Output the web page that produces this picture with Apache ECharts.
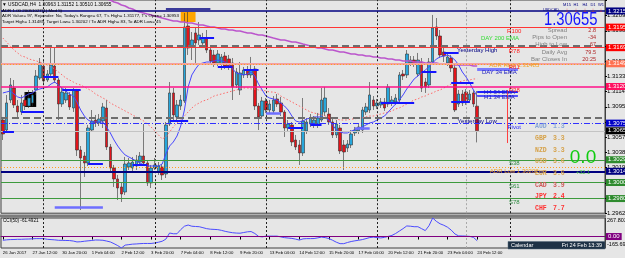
<!DOCTYPE html>
<html>

<head>
    <meta charset="utf-8" />
    <title>USDCAD,H4</title>
    <script src="https://cdn.jsdelivr.net/npm/echarts@6/dist/echarts.min.js"></script>
    <style>
        html, body { margin: 0; padding: 0; background: #e6e6e6; }
    </style>
</head>

<body>
    <div id="main" style="width: 625px;height:258px;"></div>
    <script type="text/javascript">
        // time axis, one label every 8 bars
        let timeLabels = ['26 Jan 2017', '27 Jan 12:00', '30 Jan 20:00', '1 Feb 04:00', '2 Feb 12:00', '3 Feb 20:00',
            '7 Feb 04:00', '8 Feb 12:00', '9 Feb 20:00', '13 Feb 04:00', '14 Feb 12:00', '15 Feb 20:00',
            '17 Feb 04:00', '20 Feb 12:00', '21 Feb 20:00', '23 Feb 04:00', '24 Feb 12:00'];

        // H4 bars: [open, close, low, high]
        let candles = [
            [1.3079, 1.30615, 1.3054, 1.30828], [1.30665, 1.31003, 1.30628, 1.31103], [1.3104, 1.31228, 1.31003, 1.31315],
            [1.3119, 1.30978, 1.3094, 1.3129], [1.30965, 1.3089, 1.30828, 1.3104], [1.3089, 1.31003, 1.30853, 1.31103],
            [1.3104, 1.30965, 1.30915, 1.3114], [1.30965, 1.31065, 1.3094, 1.31165], [1.31003, 1.31103, 1.30965, 1.31165],
            [1.31165, 1.3134, 1.31103, 1.31415], [1.31315, 1.31503, 1.3129, 1.31565], [1.31465, 1.31278, 1.3124, 1.3154],
            [1.3129, 1.31365, 1.31265, 1.31415], [1.31365, 1.31478, 1.3134, 1.31703], [1.31465, 1.3129, 1.31253, 1.3169],
            [1.3129, 1.3099, 1.3079, 1.31315], [1.3099, 1.3114, 1.30953, 1.3119], [1.3104, 1.31128, 1.31003, 1.3119],
            [1.31103, 1.30953, 1.30915, 1.3114], [1.3094, 1.31165, 1.3089, 1.3119], [1.31153, 1.30415, 1.3034, 1.31178],
            [1.30415, 1.30315, 1.29665, 1.30465], [1.3034, 1.30253, 1.30078, 1.3039], [1.30253, 1.3069, 1.30215, 1.30728],
            [1.30665, 1.30778, 1.3064, 1.30915], [1.3079, 1.30753, 1.30703, 1.30853], [1.30753, 1.30803, 1.30715, 1.30865],
            [1.30778, 1.30953, 1.3069, 1.31003], [1.3094, 1.30453, 1.30415, 1.3104], [1.30453, 1.3019, 1.3014, 1.3049],
            [1.3019, 1.30053, 1.29953, 1.30228], [1.30053, 1.2994, 1.2979, 1.30103], [1.29953, 1.29865, 1.29765, 1.30003],
            [1.2989, 1.3024, 1.29853, 1.30328], [1.30203, 1.30253, 1.30165, 1.30315], [1.3019, 1.30265, 1.3014, 1.30328],
            [1.30215, 1.3029, 1.30165, 1.30353], [1.30265, 1.3034, 1.30228, 1.3039], [1.3034, 1.30253, 1.30215, 1.3074],
            [1.30253, 1.30003, 1.29965, 1.3029], [1.30003, 1.3019, 1.2994, 1.30228], [1.3019, 1.30228, 1.30165, 1.30315],
            [1.3014, 1.30215, 1.30103, 1.30265], [1.30203, 1.30103, 1.3004, 1.3024], [1.30115, 1.30728, 1.30065, 1.30765],
            [1.3074, 1.31128, 1.30715, 1.31265], [1.31128, 1.30853, 1.3079, 1.3119], [1.30828, 1.30978, 1.30765, 1.3104],
            [1.30965, 1.3104, 1.30915, 1.31103], [1.31028, 1.31953, 1.31003, 1.32128], [1.31965, 1.3169, 1.31603, 1.3214],
            [1.31703, 1.3179, 1.3154, 1.3189], [1.31878, 1.31753, 1.31503, 1.3194], [1.3179, 1.31853, 1.31728, 1.32015],
            [1.31753, 1.31815, 1.3169, 1.31878], [1.31815, 1.31665, 1.31628, 1.31915], [1.31665, 1.31528, 1.3149, 1.31703],
            [1.31603, 1.31503, 1.31453, 1.31665], [1.31503, 1.31615, 1.31465, 1.31665], [1.3149, 1.31578, 1.31415, 1.31615],
            [1.3159, 1.31465, 1.31428, 1.3164], [1.31553, 1.31465, 1.31415, 1.31603], [1.31503, 1.31203, 1.3104, 1.31565],
            [1.31228, 1.3139, 1.3119, 1.3144], [1.31165, 1.31378, 1.31103, 1.31515], [1.31353, 1.31415, 1.31315, 1.31453],
            [1.31415, 1.31353, 1.31315, 1.31465], [1.31353, 1.31415, 1.31315, 1.31578], [1.31428, 1.30965, 1.30915, 1.31465],
            [1.30965, 1.30828, 1.30665, 1.31003], [1.3084, 1.31028, 1.30803, 1.31078], [1.31028, 1.30915, 1.30878, 1.31065],
            [1.30915, 1.3099, 1.30878, 1.3104], [1.30903, 1.3104, 1.30865, 1.3109], [1.31053, 1.3099, 1.30953, 1.31115],
            [1.31003, 1.3089, 1.3084, 1.31078], [1.3089, 1.3069, 1.30578, 1.30915], [1.3069, 1.3074, 1.30653, 1.3079],
            [1.30728, 1.30515, 1.30465, 1.30765], [1.3054, 1.30453, 1.30415, 1.30603], [1.30478, 1.30378, 1.30228, 1.3054],
            [1.30378, 1.30778, 1.3034, 1.31065], [1.30653, 1.30765, 1.30615, 1.30815], [1.3074, 1.30815, 1.30703, 1.30865],
            [1.30728, 1.3079, 1.3069, 1.3084], [1.30728, 1.30815, 1.3069, 1.30878], [1.3079, 1.3104, 1.30765, 1.3119],
            [1.3089, 1.31065, 1.3084, 1.31203], [1.30865, 1.30765, 1.30728, 1.3094], [1.30765, 1.30603, 1.30565, 1.30803],
            [1.30603, 1.3074, 1.30565, 1.3079], [1.3069, 1.30403, 1.30365, 1.30728], [1.30478, 1.3039, 1.30165, 1.3054],
            [1.3044, 1.3049, 1.3039, 1.3054], [1.30478, 1.30615, 1.3044, 1.30665], [1.30628, 1.30665, 1.3059, 1.30703],
            [1.30653, 1.30703, 1.30615, 1.3074], [1.30665, 1.30915, 1.30628, 1.30953], [1.3089, 1.30953, 1.30853, 1.31003],
            [1.30915, 1.31103, 1.30878, 1.31265], [1.3104, 1.30965, 1.30915, 1.3109], [1.30965, 1.31003, 1.30928, 1.31053],
            [1.30978, 1.31015, 1.3094, 1.31065], [1.31015, 1.3094, 1.30903, 1.31065], [1.3099, 1.31203, 1.30953, 1.3124],
            [1.31003, 1.3104, 1.30965, 1.3109], [1.31015, 1.31065, 1.30978, 1.31115], [1.3104, 1.31353, 1.31003, 1.3139],
            [1.31365, 1.3134, 1.3129, 1.31415], [1.31353, 1.31615, 1.31315, 1.31665], [1.31503, 1.3154, 1.31465, 1.3159],
            [1.3154, 1.3149, 1.31453, 1.3159], [1.31365, 1.3154, 1.31328, 1.31628], [1.31515, 1.3119, 1.3114, 1.31565],
            [1.31265, 1.31203, 1.31128, 1.31315], [1.31228, 1.31515, 1.3119, 1.31565], [1.31515, 1.3194, 1.3149, 1.32103],
            [1.31953, 1.3184, 1.3179, 1.32065], [1.3184, 1.31603, 1.31565, 1.31915], [1.3164, 1.3159, 1.31515, 1.3169],
            [1.31503, 1.31578, 1.31465, 1.31628], [1.31565, 1.3144, 1.3139, 1.31603], [1.3144, 1.30915, 1.3089, 1.31478],
            [1.3099, 1.31115, 1.30953, 1.31165], [1.31115, 1.31003, 1.30965, 1.31165], [1.3114, 1.31015, 1.30978, 1.31177],
            [1.3104, 1.31115, 1.31003, 1.31165], [1.31128, 1.3099, 1.30953, 1.31165], [1.30963, 1.30655, 1.3051, 1.31152]
        ];

        // blue fast ema
        let emaFast = [1.31128, 1.3114, 1.31153, 1.31115, 1.31078, 1.31065, 1.3109, 1.31115, 1.31128, 1.31165,
            1.31178, 1.3119, 1.31203, 1.3124, 1.31265, 1.31228, 1.3119, 1.31153, 1.31115, 1.3109,
            1.31015, 1.30915, 1.3084, 1.3079, 1.30765, 1.30765, 1.30765, 1.30765, 1.30703, 1.30628,
            1.3054, 1.30465, 1.30403, 1.30353, 1.30328, 1.30303, 1.30278, 1.30253, 1.30228, 1.30215,
            1.30215, 1.30215, 1.30215, 1.3024, 1.30365, 1.30465, 1.30515, 1.3059, 1.30715, 1.30915,
            1.31203, 1.31353, 1.31428, 1.3149, 1.31503, 1.31515, 1.31515, 1.31528, 1.3154, 1.31528,
            1.31515, 1.31478, 1.31428, 1.31378, 1.31365, 1.31353, 1.31365, 1.3139, 1.3134, 1.3124,
            1.31165, 1.3109, 1.31065, 1.31053, 1.3104, 1.31003, 1.30965, 1.30915, 1.3084, 1.30778,
            1.30765, 1.30778, 1.30803, 1.30815, 1.30828, 1.30828, 1.30828, 1.30815, 1.3079, 1.30728,
            1.30665, 1.3064, 1.30628, 1.30628, 1.30653, 1.30665, 1.3069, 1.30703, 1.30728, 1.30753,
            1.30765, 1.3079, 1.30815, 1.3084, 1.3089, 1.3094, 1.3099, 1.3104, 1.31103, 1.31178,
            1.3124, 1.31303, 1.3134, 1.31378, 1.31415, 1.31453, 1.31503, 1.31553, 1.31578, 1.3159,
            1.31603, 1.31578, 1.3154, 1.31478, 1.3139, 1.31328, 1.31253, 1.31165, 1.3109];

        // red dotted slow ma
        let maSlow = [1.31815, 1.31765, 1.31715, 1.31665, 1.31628, 1.3159, 1.31578, 1.31553, 1.3154, 1.31528,
            1.31515, 1.3149, 1.31478, 1.31453, 1.31428, 1.3139, 1.31353, 1.31315, 1.3129, 1.31265,
            1.3124, 1.31228, 1.31203, 1.31178, 1.31153, 1.31115, 1.3109, 1.31065, 1.3104, 1.31003,
            1.30978, 1.30953, 1.30928, 1.30903, 1.30878, 1.30853, 1.30828, 1.30803, 1.30778, 1.3074,
            1.30703, 1.30653, 1.30603, 1.30553, 1.30578, 1.3064, 1.30703, 1.30753, 1.3079, 1.3084,
            1.3089, 1.3094, 1.30978, 1.31003, 1.31028, 1.3104, 1.31065, 1.3109, 1.31103, 1.31115,
            1.31128, 1.3114, 1.31153, 1.31165, 1.31178, 1.3119, 1.3119, 1.31178, 1.31178, 1.31165,
            1.31165, 1.31153, 1.3114, 1.3114, 1.31128, 1.3109, 1.31065, 1.3104, 1.31015, 1.3099,
            1.30965, 1.3094, 1.30915, 1.3089, 1.30878, 1.30865, 1.30853, 1.3084, 1.30828, 1.30815,
            1.30803, 1.3079, 1.3079, 1.3079, 1.30803, 1.30803, 1.30815, 1.30815, 1.30828, 1.3084,
            1.3084, 1.30853, 1.30865, 1.30878, 1.3089, 1.30903, 1.30928, 1.3094, 1.30965, 1.3099,
            1.31015, 1.3104, 1.31053, 1.31078, 1.3109, 1.31115, 1.31128, 1.31153, 1.31165, 1.3119,
            1.31215, 1.3124, 1.31253, 1.31265, 1.31278, 1.3129, 1.3129, 1.31303, 1.31303];

        // purple day ema (enters from above the top edge)
        let emaDay = [null, null, null, null, null, null, null, null, null, null,
            null, null, null, null, null, null, null, null, null, null,
            null, null, null, null, null, null, null, 1.32328, 1.32303, 1.3229,
            1.32265, 1.32253, 1.32228, 1.32215, 1.3219, 1.32178, 1.32153, 1.3214, 1.32128, 1.32115,
            1.32103, 1.3209, 1.32078, 1.32065, 1.32053, 1.3204, 1.32028, 1.32028, 1.32015, 1.32015,
            1.32003, 1.32003, 1.3199, 1.31978, 1.31978, 1.31965, 1.31953, 1.31953, 1.3194, 1.31928,
            1.31928, 1.31915, 1.31915, 1.31903, 1.31903, 1.3189, 1.31878, 1.31878, 1.31865, 1.31853,
            1.31853, 1.3184, 1.31828, 1.31815, 1.31803, 1.3179, 1.3179, 1.31778, 1.31765, 1.31765,
            1.31753, 1.3174, 1.31728, 1.31715, 1.31703, 1.3169, 1.3169, 1.31678, 1.31665, 1.31665,
            1.31653, 1.3164, 1.3164, 1.31628, 1.31615, 1.31615, 1.31603, 1.31603, 1.3159, 1.3159,
            1.31578, 1.31578, 1.31565, 1.31565, 1.31553, 1.31553, 1.3154, 1.3154, 1.31528, 1.31528,
            1.31528, 1.31515, 1.31515, 1.31515, 1.31503, 1.31503, 1.31503, 1.31503, 1.3149, 1.3149,
            1.3149, 1.3149, 1.31478, 1.31478, 1.31478, 1.31478, 1.31478, 1.31465, 1.31465];

        let cci = [-54, -48, -44, -43, -40, -40, -37, -36, -33, -30,
            -30, -30, -40, -44, -48, -54, -55, -57, -58, -65,
            -78, -75, -68, -62, -57, -50, -51, -54, -65, -78,
            -103, -131, -165.6921, -124, -117, -110, -107, -103, -100, -100,
            -100, -93, -82, -68, -37, 51, 40, 40, 100, 149,
            166, 149, 145, 142, 128, 114, 106, 103, 100, 89,
            75, 64, 55, 50, 48, 58, 68, 72, 44, 2,
            -5, 6, 6, 6, 6, -5, -16, -22, -27, -37,
            -51, -34, -30, -30, -29, -19, -8, -16, -29, -54,
            -82, -103, -103, -86, -72, -62, -54, -44, -30, -15,
            -9, -15, -20, -12, 2, 16, 44, 79, 114, 153,
            149, 142, 142, 114, 86, 156, 267.8034, 219, 184, 163,
            135, 93, 37, 9, 8, 6, 2, -12, -61.4921];
        let cciRange = [-165.6921, 267.8034];

        // levels
        let levelNames = ['R100', 'R78', 'R61', 'R38', 'Pivot', 'S38', 'S61', 'S78'];
        let levelValues = [1.31951, 1.31694, 1.31493, 1.31209, 1.30751, 1.30293, 1.30009, 1.29808];
        let adrLevels = [1.31485, 1.30202];
        let yesterdayLevels = [1.31719, 1.30816];
        let navyLevels = [1.32153, 1.30149];
        let bid = 1.30655;

        // short horizontal marks: [fromBar, toBar, price]
        let blueMarks = [[0, 3, 1.3064], [5, 11, 1.3089], [11, 15, 1.31328], [16, 21, 1.31165], [23, 27, 1.3024],
            [35, 39, 1.30228], [45, 50, 1.30778], [53, 57, 1.31815], [58, 62, 1.31453], [65, 69, 1.31415],
            [77, 81, 1.3069], [83, 86, 1.30728], [102, 111, 1.31003], [113, 117, 1.3139], [119, 123, 1.31628],
            [121, 127, 1.31253], [121, 126, 1.31015]];
        let paleMarks = [[14, 27, 1.29703], [71, 75, 1.30878], [95, 99, 1.3069]];
        let emaTags = ['DAY 34 EMA', 'H4 34 EMA', 'H1 34 EMA'];
        let emaTagValues = [1.31428, 1.3114, 1.3109];

        let weekStarts = [11, 41, 71, 101, 137];
        let dayStart = 125;

        let tfNames = ['M15', 'H1', 'H4', 'D1', 'W1'];
        let infoNames = ['Spread', 'Pips to Open', 'High to Low', 'Daily Avg', 'Bar Closes In'];
        let infoValues = ['2.8', '-34', '67', '79.5', '20:25'];
        let currNames = ['AUD', 'GBP', 'NZD', 'USD', 'EUR', 'CAD', 'JPY', 'CHF'];
        let currValues = ['1.3', '3.3', '3.3', '3.6', '3.6', '3.9', '2.4', '7.7'];

        let slots = 163; // bars plus the empty right shift
        let cats = [];
        for (let i = 0; i < slots; i++) cats.push(String(i));

        let FONT = '"Liberation Sans", Arial, sans-serif';

        function hl(v, color, width, type, tag) {
            let item = { yAxis: v, lineStyle: { color: color, width: width, type: type } };
            if (tag) {
                item.label = {
                    show: true, position: 'end', formatter: v.toFixed(5), backgroundColor: tag,
                    color: '#fff', fontSize: 6, fontFamily: FONT, padding: [1, 2, 0, 2], distance: 1
                };
            }
            return item;
        }
        function note(x, v, text, color, dy) {
            return {
                coord: [x, v], symbol: 'rect', symbolSize: 1, itemStyle: { color: 'rgba(0,0,0,0)' },
                label: { show: true, position: 'inside', formatter: text, color: color, fontSize: 6, fontFamily: FONT, offset: [0, dy] }
            };
        }
        function txt(x, y, s, color, size, align, extra) {
            let el = {
                type: 'text', x: x, y: y, z: 100, silent: true,
                style: {
                    text: s, fill: color, fontSize: size, fontFamily: FONT,
                    align: align || 'left', verticalAlign: 'middle',
                    textAlign: align || 'left', textVerticalAlign: 'middle'
                }
            };
            if (extra) {
                Object.assign(el.style, extra.style || {});
                if (extra.scaleX) el.scaleX = extra.scaleX;
            }
            return el;
        }

        let mlMain = [];
        weekStarts.forEach(i => mlMain.push({ xAxis: i, lineStyle: { color: '#202020', type: [2, 2], width: 1 } }));
        mlMain.push({ xAxis: dayStart, lineStyle: { color: '#a8a8a8', type: [2, 2], width: 1 } });
        mlMain.push(hl(navyLevels[0], '#000080', 1.5, 'solid', '#000080'));
        mlMain.push(hl(levelValues[0], '#ff3535', 1, 'solid', '#ff0000'));
        mlMain.push(hl(yesterdayLevels[0], '#6e6e6e', 2, [7, 4], null));
        mlMain.push(hl(levelValues[1], '#ff3535', 1.2, 'solid', '#ff0000'));
        mlMain.push(hl(levelValues[2], '#f4a0a0', 2.2, 'solid', '#ff7050'));
        mlMain.push(hl(adrLevels[0], '#ffa020', 1, [1, 2], null));
        mlMain.push(hl(levelValues[3], '#ff1188', 1.6, 'solid', '#ff1060'));
        mlMain.push(hl(yesterdayLevels[1], '#6e6e6e', 2, [7, 4], null));
        mlMain.push(hl(levelValues[4], '#3030ff', 1, [6, 2, 1, 2], '#0000c8'));
        mlMain.push(hl(bid, '#c4c4c4', 1, 'solid', '#000000'));
        mlMain.push(hl(levelValues[5], '#3d9a3d', 1, 'solid', '#2e8b2e'));
        mlMain.push(hl(adrLevels[1], '#ffa020', 1, [1, 2], null));
        mlMain.push(hl(navyLevels[1], '#000080', 2, 'solid', '#000080'));
        mlMain.push(hl(levelValues[6], '#3d9a3d', 1, 'solid', '#2e8b2e'));
        mlMain.push(hl(levelValues[7], '#3d9a3d', 1, 'solid', '#2e8b2e'));
        blueMarks.forEach(m => mlMain.push([{ coord: [m[0], m[2]], lineStyle: { color: '#1414ff', width: 2, type: 'solid' } }, { coord: [m[1], m[2]] }]));
        paleMarks.forEach(m => mlMain.push([{ coord: [m[0], m[2]], lineStyle: { color: '#6e6eff', width: 2.5, type: 'solid' } }, { coord: [m[1], m[2]] }]));
        mlMain.push([{ coord: [128, emaTagValues[0]], lineStyle: { color: '#7a7aff', width: 3, type: 'solid' } }, { coord: [139, emaTagValues[0]] }]);
        mlMain.push([{ coord: [128, emaTagValues[1]], lineStyle: { color: '#2020ff', width: 2, type: 'solid' } }, { coord: [139, emaTagValues[1]] }]);
        mlMain.push([{ coord: [128, emaTagValues[2]], lineStyle: { color: '#2020ff', width: 1.5, type: 'solid' } }, { coord: [139, emaTagValues[2]] }]);
        mlMain.push([{ coord: [44, 1.32178], lineStyle: { color: '#000080', width: 1.5, type: 'solid' } }, { coord: [56, 1.32178] }]);
        mlMain.push([{ coord: [136, 1.31165], lineStyle: { color: '#ff4040', width: 1, type: 'solid' } }, { coord: [136, 1.30502] }]);

        let levelColors = ['#ff2020', '#ff2020', '#ff2020', '#ff2020', '#2828ff', '#2e8b40', '#2e8b40', '#2e8b40'];
        let mpMain = [];
        mpMain.push(note(128, yesterdayLevels[0], 'Yesterday High', '#000080', 5));
        mpMain.push(note(128, yesterdayLevels[1], 'Yesterday Low', '#000080', 3));
        mpMain.push(note(138, adrLevels[0], 'ADR High 1.31485', '#f0a020', 1));
        mpMain.push(note(138, adrLevels[1], 'ADR Low 1.30202', '#f0a020', 4));
        mpMain.push(note(134, emaTagValues[0], emaTags[0], '#2020c0', 3));
        mpMain.push(note(134, emaTagValues[1], emaTags[1], '#2020c0', 0));
        mpMain.push(note(134, emaTagValues[2], emaTags[2], '#2020c0', 1.5));
        levelNames.forEach((n, k) => mpMain.push(note(138, levelValues[k], n, levelColors[k], 4)));

        let mlCci = [];
        weekStarts.forEach(i => mlCci.push({ xAxis: i, lineStyle: { color: '#202020', type: [2, 2], width: 1 } }));
        mlCci.push({ xAxis: dayStart, lineStyle: { color: '#a8a8a8', type: [2, 2], width: 1 } });
        mlCci.push({
            yAxis: 0, lineStyle: { color: '#800080', width: 1, type: 'solid' },
            label: { show: true, position: 'end', formatter: '0.00', backgroundColor: '#800080', color: '#fff', fontSize: 6, fontFamily: FONT, padding: [1, 2, 0, 2], distance: 1 }
        });

        let graphics = [
            { type: 'rect', z: 50, silent: true, shape: { x: 0, y: 214.5, width: 606, height: 3 }, style: { fill: '#7c7c7c' } },
            txt(2, 5, '\u25BC USDCAD,H4  1.30963 1.31152 1.30510 1.30655', '#000', 4.8),
            txt(2, 10.5, 'ADR 1.00 20051027(1) Mod 5)', '#000', 4.4),
            txt(2, 16, "ADR Value= 97, Rejoinder: No, Today's Range= 67, T's High= 1.31177, T's Open= 1.30953", '#000', 4.4),
            txt(2, 22, 'Target High= 1.31485, Target Low= 1.30202 / To ADR High= 83, To ADR Low= 45', '#000', 4.4),
            txt(500, 38, 'DAY 200 EMA', '#33dd33', 6, 'center'),
            txt(543, 10, 'USDCAD', '#000080', 3.8),
            txt(544, 19.5, '1.30655', '#1414ff', 19, 'left', { scaleX: 0.78 }),
            txt(583, 157.5, '0.0', '#10cc10', 19, 'center'),
            txt(583, 172.5, '+32.1', '#44bb44', 5.5, 'center'),
            txt(3, 220.5, 'CCI(50) -61.4921', '#000', 4.6),
            { type: 'rect', z: 60, silent: true, shape: { x: 508, y: 241.5, width: 97, height: 7.5 }, style: { fill: '#1e3246', stroke: '#55687a', lineWidth: 0.5 } },
            txt(511, 245.5, 'Calendar', '#ffffff', 5.5),
            txt(602, 245.5, 'Fri 24 Feb 13:39', '#ffffff', 5.5, 'right')
        ];
        let tfX = [567, 576, 585, 593, 601];
        tfNames.forEach((n, k) => {
            graphics.push(txt(tfX[k], 4.5, n, '#000080', 4, 'center'));
            graphics.push(txt(tfX[k], 10.5, '\u2193', '#ff2020', 6, 'center'));
        });
        let infoY = [30, 37.3, 44.6, 52, 59.3];
        infoNames.forEach((n, k) => {
            graphics.push(txt(567, infoY[k], n, '#808080', 6, 'right'));
            graphics.push(txt(596, infoY[k], infoValues[k], '#b02828', 5.5, 'right'));
        });
        let currColors = ['#86a6d8', '#d6a24a', '#d6a24a', '#d6a24a', '#d6a24a', '#d05858', '#ff3030', '#ff3030'];
        currNames.forEach((n, k) => {
            let y = 126.7 + k * 11.66;
            graphics.push(txt(535, y, n, currColors[k], 6.5, 'left', { style: { fontFamily: '"Liberation Mono", monospace', fontWeight: 'bold' } }));
            graphics.push(txt(553, y, currValues[k], currColors[k], 6.5, 'left', { style: { fontFamily: '"Liberation Mono", monospace', fontWeight: 'bold' } }));
        });

        let myChart = echarts.init(document.getElementById('main'), null, { renderer: 'canvas' });

        let option = {
            animation: false,
            backgroundColor: '#e6e6e6',
            textStyle: { fontFamily: FONT },
            grid: [
                { left: 1, top: 0, width: 604, height: 213.2, show: true, borderColor: '#404040', borderWidth: 1, containLabel: false, outerBoundsMode: 'none' },
                { left: 1, top: 218, width: 604, height: 30, show: true, borderColor: '#404040', borderWidth: 1, containLabel: false, outerBoundsMode: 'none' }
            ],
            xAxis: [
                {
                    type: 'category', gridIndex: 0, data: cats, boundaryGap: true,
                    axisLine: { show: false }, axisTick: { show: false }, axisLabel: { show: false }, splitLine: { show: false }
                },
                {
                    type: 'category', gridIndex: 1, data: cats, boundaryGap: true,
                    axisLine: { show: true, lineStyle: { color: '#404040' } },
                    axisTick: {
                        show: true, alignWithLabel: true, length: 3, lineStyle: { color: '#000' },
                        interval: (i) => i % 8 === 0 && i / 8 < timeLabels.length
                    },
                    axisLabel: {
                        show: true, fontSize: 4.3, color: '#000', align: 'left', margin: 2.5, fontFamily: FONT,
                        interval: (i) => i % 8 === 0 && i / 8 < timeLabels.length,
                        formatter: (v, i) => timeLabels[i / 8] || ''
                    },
                    splitLine: { show: false }
                }
            ],
            yAxis: [
                {
                    type: 'value', gridIndex: 0, position: 'right', min: 1.29625, max: 1.3229, interval: 0.0019,
                    axisLine: { show: true, lineStyle: { color: '#404040' } },
                    axisTick: { show: true, length: 2, lineStyle: { color: '#000' } },
                    axisLabel: { fontSize: 6, color: '#000', margin: 2, fontFamily: FONT, formatter: v => v > 1.322 ? '' : v.toFixed(5) },
                    splitLine: { show: false }
                },
                {
                    type: 'value', gridIndex: 1, position: 'right', min: cciRange[0], max: cciRange[1],
                    interval: cciRange[1] - cciRange[0],
                    axisLine: { show: true, lineStyle: { color: '#404040' } },
                    axisTick: { show: false },
                    axisLabel: {
                        fontSize: 5.5, color: '#000', margin: 2, fontFamily: FONT,
                        formatter: v => v > 0 ? '{t|' + v.toFixed(4) + '}' : '{b|' + v.toFixed(4) + '}',
                        rich: { t: { fontSize: 5.5, padding: [4, 0, 0, 0] }, b: { fontSize: 5.5, padding: [0, 0, 8, 0] } }
                    },
                    splitLine: { show: false }
                }
            ],
            graphic: graphics,
            series: [
                {
                    type: 'candlestick', name: 'USDCAD', xAxisIndex: 0, yAxisIndex: 0, data: candles,
                    barWidth: 3, silent: true, z: 2,
                    itemStyle: { color: '#27a7dc', color0: '#e3141b', borderColor: '#303030', borderColor0: '#303030', borderWidth: 0.6 },
                    markPoint: { silent: true, animation: false, data: mpMain }
                },
                {
                    type: 'line', name: 'Day EMA', xAxisIndex: 0, yAxisIndex: 0, data: emaDay, symbol: 'none', silent: true, z: 3,
                    lineStyle: { color: '#bb55cc', width: 1.6 },
                    markArea: {
                        silent: true, animation: false,
                        data: [
                            [{ coord: [48, 1.3214], itemStyle: { color: '#ffa500' } }, { coord: [52, 1.32015] }],
                            [{ coord: [6, 1.3114], itemStyle: { color: '#000000' } }, { coord: [9, 1.30953] }]
                        ]
                    }
                },
                {
                    type: 'line', name: 'Slow MA', xAxisIndex: 0, yAxisIndex: 0, data: maSlow, symbol: 'none', silent: true, z: 3,
                    lineStyle: { color: '#ff6a6a', width: 1, type: [1.5, 2] }
                },
                {
                    type: 'line', name: 'Fast EMA', xAxisIndex: 0, yAxisIndex: 0, data: emaFast, symbol: 'none', silent: true, z: 3,
                    lineStyle: { color: '#4646ff', width: 1 },
                    markLine: { silent: true, precision: 6, symbol: ['none', 'none'], animation: false, label: { show: false }, data: mlMain }
                },
                {
                    type: 'line', name: 'CCI', xAxisIndex: 1, yAxisIndex: 1, data: cci, symbol: 'none', silent: true,
                    lineStyle: { color: '#4b4bff', width: 1 },
                    markLine: { silent: true, precision: 6, symbol: ['none', 'none'], animation: false, label: { show: false }, data: mlCci }
                }
            ]
        };
        myChart.setOption(option);
    </script>
</body>

</html>
